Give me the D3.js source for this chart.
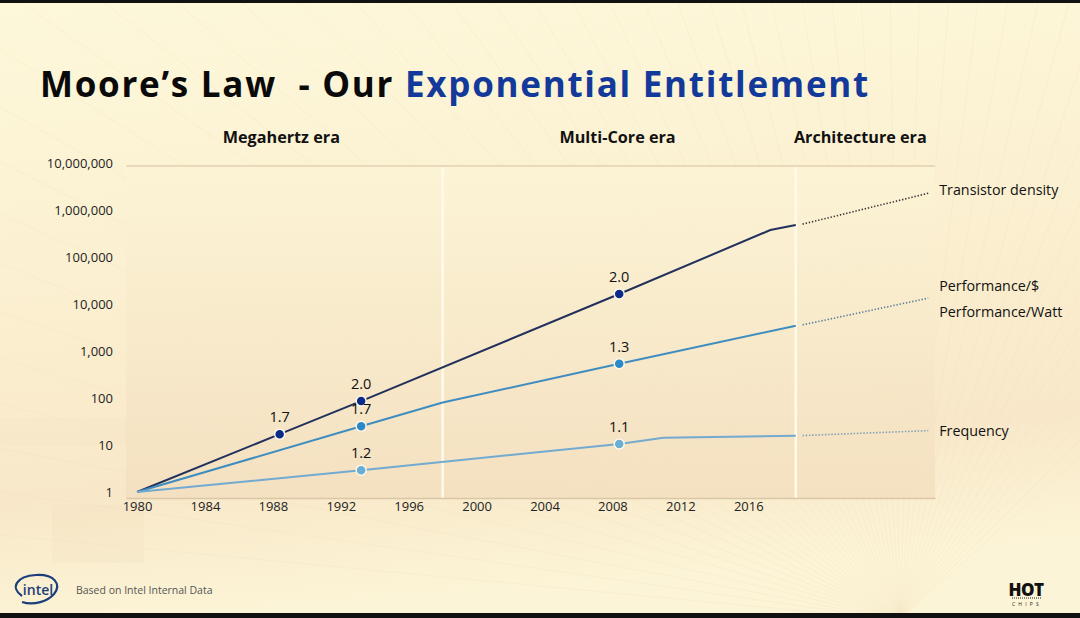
<!DOCTYPE html>
<html>
<head>
<meta charset="utf-8">
<script src="https://cdn.jsdelivr.net/npm/d3@7/dist/d3.min.js"></script>
<style>
  html, body { margin: 0; padding: 0; background: #fdf7d8; }
  svg { display: block; }
  text { font-family: "Open Sans", "DejaVu Sans", sans-serif; }
</style>
</head>
<body>
<script>
// chart data
const yTicks = [1, 10, 100, 1000, 10000, 100000, 1000000, 10000000];
const xTicks = [1980, 1984, 1988, 1992, 1996, 2000, 2004, 2008, 2012, 2016];
const eraNames = ["Megahertz era", "Multi-Core era", "Architecture era"];
const eraCenters = [1988.5, 2008.3, 2022.6];
const eraBreaks = [1998, 2018.8];

const transistorYears = [1980, 1988.4, 1993.2, 2008.4, 2017.3, 2018.8];
const transistorValues = [1, 17, 86, 16300, 375000, 480000];
const perfYears = [1980, 1993.2, 1998, 2008.4, 2018.8];
const perfValues = [1, 25, 80, 535, 3450];
const freqYears = [1980, 1993.2, 2008.4, 2011, 2018.8];
const freqValues = [1, 2.9, 10.5, 14.3, 15.8];

// projections past the architecture-era break
const projYears = [2019.2, 2026.6];
const transistorProj = [500000, 2270000];
const perfProj = [3600, 13300];
const freqProj = [15.9, 20.2];

// annual growth factors marked on the lines
const markerYears = [1988.4, 1993.2, 2008.4, 1993.2, 2008.4, 1993.2, 2008.4];
const markerValues = [17, 86, 16300, 25, 535, 2.9, 10.5];
const markerLabels = ["1.7", "2.0", "2.0", "1.7", "1.3", "1.2", "1.1"];
const markerSeries = [0, 0, 0, 1, 1, 2, 2];

const seriesNames = ["Transistor density", "Performance/$", "Performance/Watt", "Frequency"];
const labelValues = [2650000, 24000, 6800, 20.2];

const W = 1080, H = 618;
const svg = d3.select("body").append("svg")
    .attr("width", W)
    .attr("height", H);

const defs = svg.append("defs");
const bg = defs.append("linearGradient").attr("id", "bg")
    .attr("x1", 0).attr("y1", 0).attr("x2", 0.15).attr("y2", 1);
bg.append("stop").attr("offset", "0%").attr("stop-color", "#fdf8da");
bg.append("stop").attr("offset", "45%").attr("stop-color", "#fbf0d1");
bg.append("stop").attr("offset", "80%").attr("stop-color", "#f8e8c9");
bg.append("stop").attr("offset", "100%").attr("stop-color", "#fcf4d6");

const plotBg = defs.append("linearGradient").attr("id", "plotbg")
    .attr("x1", 0).attr("y1", 0).attr("x2", 0).attr("y2", 1);
plotBg.append("stop").attr("offset", "0%").attr("stop-color", "#fcf4d6");
plotBg.append("stop").attr("offset", "100%").attr("stop-color", "#f3dfbf");

svg.append("rect").attr("width", W).attr("height", H).attr("fill", "url(#bg)");

// faint rays behind everything
const rays = svg.append("g").attr("stroke", "#ecd9b4").attr("stroke-opacity", 0.22).attr("stroke-width", 1);
d3.range(0, 50).forEach(i => {
    const a = -Math.PI * 0.97 + i * (Math.PI * 0.75 / 50);
    rays.append("line")
        .attr("x1", 900).attr("y1", 620)
        .attr("x2", 900 + Math.cos(a) * 1400)
        .attr("y2", 620 + Math.sin(a) * 1400);
});

// faint tan blocks at lower left
svg.append("rect").attr("x", 0).attr("y", 418).attr("width", 195).attr("height", 28)
    .attr("fill", "#f6e6c8").attr("opacity", 0.45);
svg.append("rect").attr("x", 52).attr("y", 505).attr("width", 92).attr("height", 58)
    .attr("fill", "#f3e0bf").attr("opacity", 0.3);

const x = d3.scaleLinear().domain([1979.35, 2027]).range([126, 935]);
const y = d3.scaleLog().domain([1, 10000000]).range([492, 163]);

// plot area shading
svg.append("rect")
    .attr("x", x(1979.35)).attr("y", y(10000000) + 3)
    .attr("width", x(2027) - x(1979.35)).attr("height", 498 - y(10000000) - 3)
    .attr("fill", "url(#plotbg)").attr("opacity", 0.85);

// top grid line
svg.append("line")
    .attr("x1", x(1979.35)).attr("x2", x(2027))
    .attr("y1", y(10000000) + 3).attr("y2", y(10000000) + 3)
    .attr("stroke", "#ead9b8").attr("stroke-width", 2);

// era separators
svg.selectAll(".era-line").data(eraBreaks).enter().append("line")
    .attr("x1", d => x(d)).attr("x2", d => x(d))
    .attr("y1", y(10000000) + 4).attr("y2", 498)
    .attr("stroke", "#fffbe8").attr("stroke-width", 2.5);

// axes
const yAxis = svg.append("g")
    .attr("transform", `translate(${x(1979.35)},0)`)
    .call(d3.axisLeft(y).tickValues(yTicks).tickFormat(d3.format(",")).tickSize(0).tickPadding(13));
yAxis.select(".domain").remove();
yAxis.selectAll("text").attr("font-size", 13).attr("fill", "#222")
    .style("font-family", "\"Open Sans\", sans-serif");

const xAxis = svg.append("g")
    .attr("transform", "translate(0,498)")
    .call(d3.axisBottom(x).tickValues(xTicks).tickFormat(d3.format("d")).tickSize(0).tickPadding(4));
xAxis.select(".domain").attr("stroke", "#d9c7a6").attr("stroke-width", 1.5);
xAxis.selectAll("text").attr("font-size", 13).attr("fill", "#222")
    .style("font-family", "\"Open Sans\", sans-serif");

// lines
const line = d3.line().x(d => x(d[0])).y(d => y(d[1]));
const solidColors = ["#22305c", "#3f8dc0", "#72aad0"];
const dotColors = ["#0c2a8a", "#2b88c9", "#6aaed6"];
const projColors = ["#3a3a3a", "#5d7f9c", "#7b9db7"];
const series = [
    d3.zip(transistorYears, transistorValues),
    d3.zip(perfYears, perfValues),
    d3.zip(freqYears, freqValues)
];
const projections = [
    d3.zip(projYears, transistorProj),
    d3.zip(projYears, perfProj),
    d3.zip(projYears, freqProj)
];

series.forEach((s, i) => {
    svg.append("path").datum(s)
        .attr("d", line)
        .attr("fill", "none")
        .attr("stroke", solidColors[i])
        .attr("stroke-width", 2);
});
projections.forEach((s, i) => {
    svg.append("path").datum(s)
        .attr("d", line)
        .attr("fill", "none")
        .attr("stroke", projColors[i])
        .attr("stroke-width", 1.6)
        .attr("stroke-dasharray", "1.4,1.8");
});

// growth-rate markers
markerYears.forEach((yr, i) => {
    const cx = x(yr), cy = y(markerValues[i]);
    svg.append("circle")
        .attr("cx", cx).attr("cy", cy).attr("r", 5)
        .attr("fill", dotColors[markerSeries[i]])
        .attr("stroke", "#fff8e6").attr("stroke-width", 1.5);
    svg.append("text")
        .attr("x", cx).attr("y", cy - 12)
        .attr("text-anchor", "middle")
        .attr("font-size", 14.5)
        .attr("fill", "#111")
        .text(markerLabels[i]);
});

// series labels at right
seriesNames.forEach((name, i) => {
    svg.append("text")
        .attr("x", x(2026.6) + 11)
        .attr("y", y(labelValues[i]))
        .attr("dy", "0.35em")
        .attr("font-size", 14.3)
        .attr("fill", "#111")
        .text(name);
});

// era headings
eraNames.forEach((name, i) => {
    svg.append("text")
        .attr("x", x(eraCenters[i]))
        .attr("y", 143)
        .attr("text-anchor", "middle")
        .attr("font-size", 16.2)
        .attr("font-weight", 700)
        .attr("fill", "#111")
        .text(name);
});

// title
const title = svg.append("text")
    .attr("x", 40).attr("y", 97)
    .attr("font-size", 35)
    .attr("font-weight", 700)
    .style("white-space", "pre")
    .attr("xml:space", "preserve");
title.append("tspan").attr("fill", "#0a0a0a").text("Moore\u2019s Law  - Our ");
title.append("tspan").attr("fill", "#13399a").text("Exponential Entitlement");
const tw = title.node().getComputedTextLength();
const nChars = "Moore\u2019s Law  - Our Exponential Entitlement".length;
title.attr("letter-spacing", (830 - tw) / nChars);

// footer: intel mark
const logo = svg.append("g");
logo.append("path")
    .attr("d", "M 22 596 C 10 588, 16 576, 36 575 C 54 574, 62 584, 54 594 C 48 601, 34 606, 22 602")
    .attr("fill", "none").attr("stroke", "#1b3f7a").attr("stroke-width", 2.2);
logo.append("text")
    .attr("x", 38).attr("y", 595).attr("text-anchor", "middle")
    .attr("font-size", 14).attr("font-weight", 600).attr("fill", "#1b3f7a")
    .text("intel");
svg.append("text")
    .attr("x", 76).attr("y", 594)
    .attr("font-size", 10.5).attr("fill", "#555")
    .text("Based on Intel Internal Data");

// footer: Hot Chips mark
svg.append("text")
    .attr("x", 1026).attr("y", 596).attr("text-anchor", "middle")
    .attr("font-size", 17).attr("font-weight", 900)
    .attr("font-family", "\"DejaVu Sans\", sans-serif")
    .attr("letter-spacing", -0.5)
    .attr("fill", "#111")
    .text("HOT");
svg.append("line")
    .attr("x1", 1012).attr("x2", 1041).attr("y1", 598).attr("y2", 598)
    .attr("stroke", "#222").attr("stroke-width", 1).attr("stroke-dasharray", "1,1");
svg.append("text")
    .attr("x", 1027).attr("y", 606).attr("text-anchor", "middle")
    .attr("font-size", 5).attr("letter-spacing", 3.2).attr("fill", "#222")
    .text("CHIPS");

// black frame bars at top and bottom
svg.append("rect").attr("x", 0).attr("y", 0).attr("width", W).attr("height", 3).attr("fill", "#111");
svg.append("rect").attr("x", 0).attr("y", 613).attr("width", W).attr("height", 5).attr("fill", "#111");
</script>
</body>
</html>
